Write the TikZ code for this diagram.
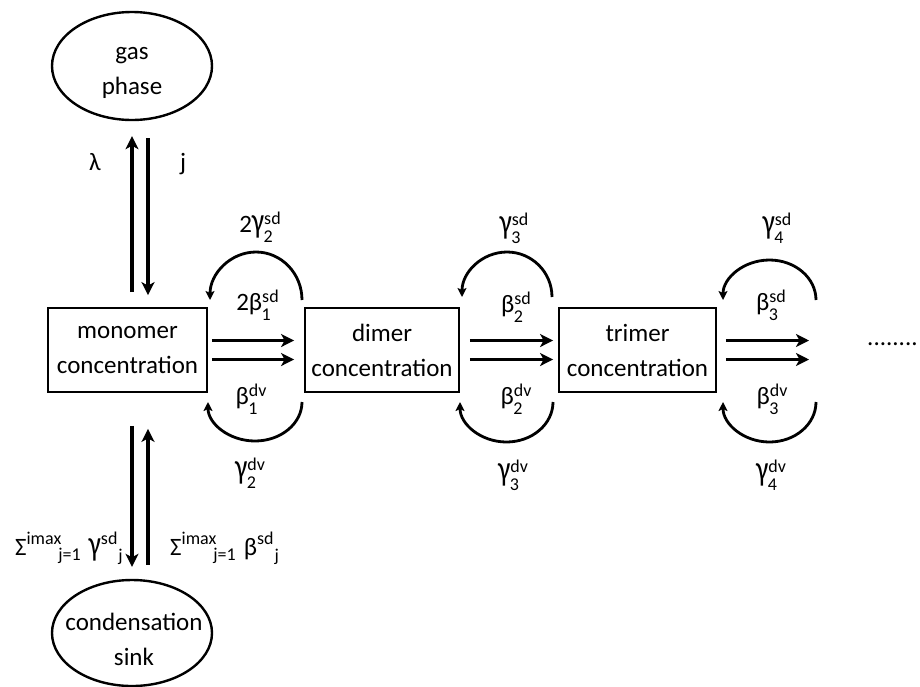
\documentclass[tikz,border=0pt]{standalone}
\usepackage{fontspec}
\usepackage{graphicx}
\setmainfont{Carlito}
\usetikzlibrary{arrows.meta,calc,shapes.geometric}
\newcommand\ssz{\fontsize{18}{18}\selectfont}
\newcommand\gam{\scalebox{1.1}[1.4]{γ}}
\newcommand\gl[3]{#1{\ssz\rlap{\raise8pt\hbox{#2}}\rlap{\kern-0.5pt\lower10pt\hbox{#3}}\phantom{#2}}}
\newcommand\sumlbl[1]{Σ{\ssz\raise11pt\hbox{imax}\kern-3pt\lower5pt\hbox{j=1}}\hspace{8pt}#1{\ssz\raise11pt\hbox{sd}\kern1pt\lower6pt\hbox{j}}}
\begin{document}
\begin{tikzpicture}[x=1pt,y=1pt,
  every node/.style={font=\fontsize{25}{35}\selectfont},
  box/.style={draw,line width=1.8pt,minimum height=84pt,inner sep=0pt,align=center},
  blob/.style={ellipse,draw,line width=2.4pt,minimum width=160pt,minimum height=108pt,inner sep=0pt},
  ttxt/.style={align=center,inner sep=0pt},
  arr/.style={line width=3.2pt,-{Stealth[length=13pt,width=13pt,inset=3.5pt]}},
  carr/.style={line width=2.8pt,-{Stealth[length=9pt,width=9pt,inset=2pt]}},
  lbl/.style={anchor=base,inner sep=0pt}]
\useasboundingbox (0,0) rectangle (920,-686);
% nodes
\node[blob] (gas) at (132,-66) {};
\node[ttxt] (gastext) at (132,-73) {gas\\phase};
\node[box,minimum width=159pt] (mono) at (127.5,-350) {monomer\\concentration};
\node[box,minimum width=154pt] (dimer) at (382,-350) {dimer\\concentration};
\node[box,minimum width=157pt] (trimer) at (637.5,-350) {trimer\\concentration};
\node[blob,minimum height=106pt] (sink) at (132,-633) {};
\node[ttxt] (sinktext) at (134,-639) {condensation\\sink};
% vertical arrows
\draw[arr] ($(gas.south |- mono.north)+(0,15)$) -- ($(gas.south)+(0,-15)$);
\draw[arr] ($(gas.south)+(16,-17)$) -- ($(gas.south |- mono.north)+(16,12)$);
\draw[arr] ($(sink.north |- mono.south)+(0,-33)$) -- ($(sink.north)+(0,12)$);
\draw[arr] ($(sink.north)+(16,14)$) -- ($(sink.north |- mono.south)+(16,-36)$);
% horizontal arrows
\coordinate (e1) at (809,-340.5);
\coordinate (e2) at (809,-359.5);
\draw[arr] ($(mono.east)+(4,9.5)$) -- ($(dimer.west)+(-10,9.5)$);
\draw[arr] ($(mono.east)+(4,-9.5)$) -- ($(dimer.west)+(-10,-9.5)$);
\draw[arr] ($(dimer.east)+(10,9.5)$) -- ($(trimer.west)+(-5,9.5)$);
\draw[arr] ($(dimer.east)+(10,-9.5)$) -- ($(trimer.west)+(-5,-9.5)$);
\draw[arr] ($(trimer.east)+(9,9.5)$) -- (e1);
\draw[arr] ($(trimer.east)+(9,-9.5)$) -- (e2);
% curved arrows
\coordinate (u1) at (302,-300);
\coordinate (l1) at (302,-402);
\coordinate (u2) at (552,-297);
\coordinate (l2) at (553,-402);
\coordinate (u3) at (816,-300);
\coordinate (l3) at (816,-402);
\draw[carr] (u1) arc[start angle=0,end angle=180,x radius=46,y radius=48];
\draw[carr] (l1) arc[start angle=0,end angle=-180,x radius=47,y radius=39];
\draw[carr] (u2) arc[start angle=0,end angle=180,x radius=45,y radius=45];
\draw[carr] (l2) arc[start angle=0,end angle=-180,x radius=46.5,y radius=40];
\draw[carr] (u3) arc[start angle=0,end angle=180,x radius=46.5,y radius=40];
\draw[carr] (l3) arc[start angle=0,end angle=-180,x radius=46.5,y radius=40];
% labels
\node[lbl] (g2) at (260,-232) {\gl{2\gam}{sd}{2}};
\node[lbl] (b1) at (257.5,-310) {\gl{2β}{sd}{1}};
\node[lbl] (b1d) at (251,-404) {\gl{β}{dv}{1}};
\node[lbl] (g2d) at (250,-478) {\gl{\gam}{dv}{2}};
\node[lbl] (g3) at (514,-233) {\gl{\gam}{sd}{3}};
\node[lbl] (b2) at (516,-312) {\gl{β}{sd}{2}};
\node[lbl] (b2d) at (516,-404) {\gl{β}{dv}{2}};
\node[lbl] (g3d) at (513,-480) {\gl{\gam}{dv}{3}};
\node[lbl] (g4) at (777,-233) {\gl{\gam}{sd}{4}};
\node[lbl] (b3) at (771,-310) {\gl{β}{sd}{3}};
\node[lbl] (b3d) at (772,-404) {\gl{β}{dv}{3}};
\node[lbl] (g4d) at (771,-480) {\gl{\gam}{dv}{4}};
\node[lbl] (lam) at (95,-170) {λ};
\node[lbl] (jj) at (183,-170) {j};
\node[lbl,anchor=base east] (sl) at (123,-555) {\sumlbl{\gam}};
\node[lbl,anchor=base west] (sr) at (170,-555) {\sumlbl{β}};
\node[lbl,anchor=base west] (dots) at (867,-345) {........};
\end{tikzpicture}
\end{document}
